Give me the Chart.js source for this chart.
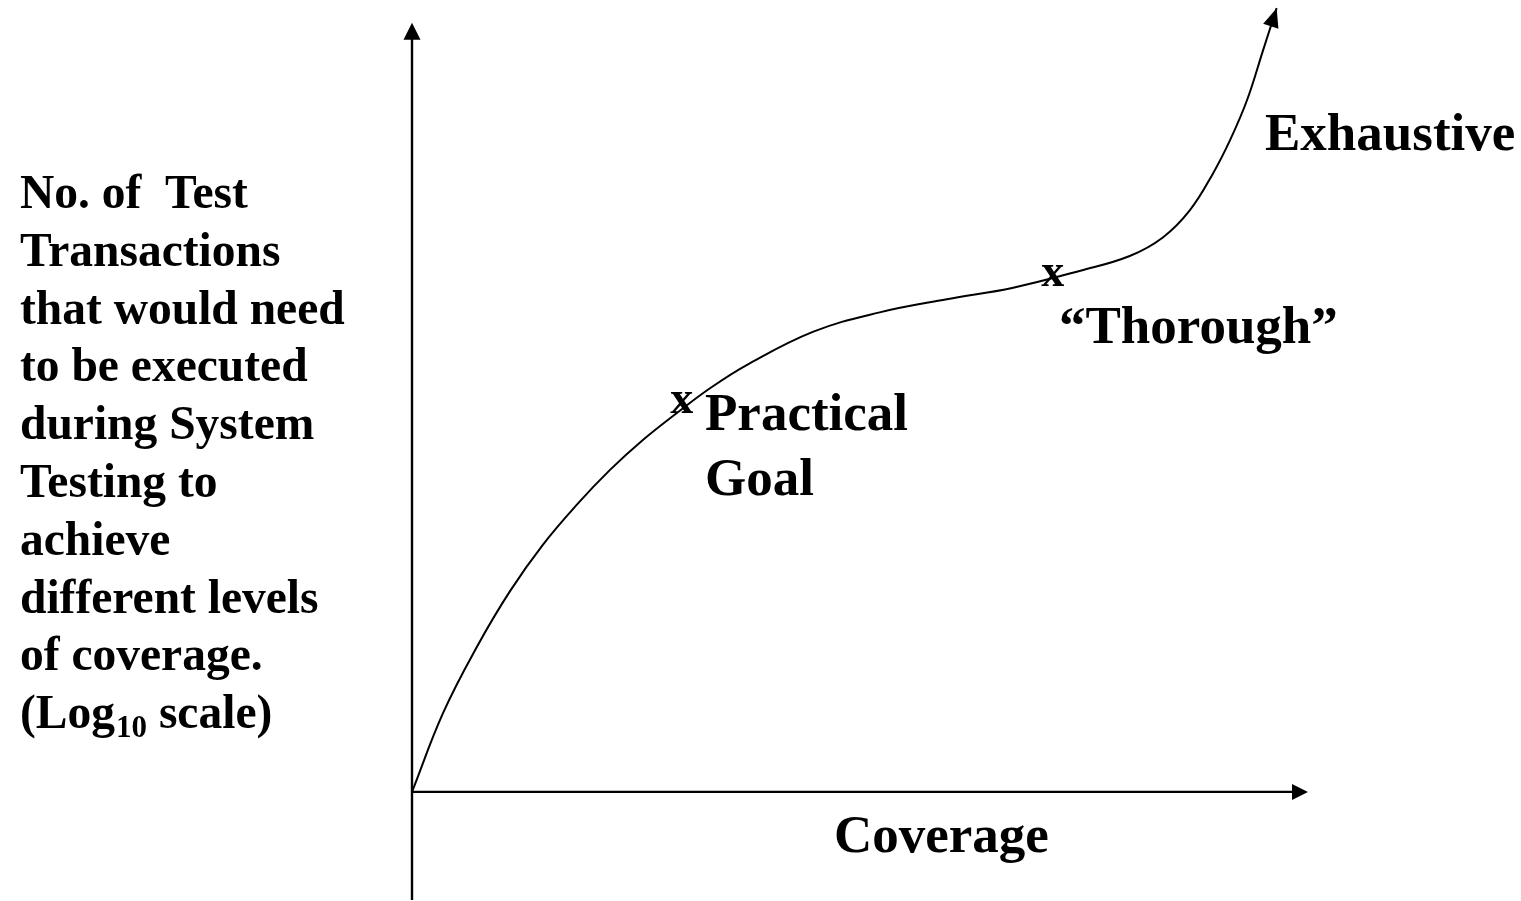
<!DOCTYPE html>
<html>
<head>
<meta charset="utf-8">
<script src="https://cdn.jsdelivr.net/npm/chart.js@4/dist/chart.umd.min.js"></script>
<style>
  html, body { margin: 0; padding: 0; background: #ffffff; }
  #wrap { width: 1521px; height: 901px; }
</style>
</head>
<body>
<div id="wrap"><canvas id="c" width="1521" height="901"></canvas></div>
<script>
// ---- data ----
const coverage = [0, 3.46, 7.25, 10.94, 14.6, 18.4, 22.1, 25.8, 29.6, 33.3, 37.4, 44.8, 52.2, 59.7, 67.1, 74.6, 80.1, 83.8, 86.8, 89.4, 91.3, 93.2, 95.0, 96.5];
const testCount = [0, 10.2, 18.8, 26.0, 32.0, 37.2, 41.7, 45.6, 49.1, 52.3, 55.3, 59.6, 62.1, 63.8, 65.3, 67.5, 69.4, 71.8, 75.3, 80.1, 84.4, 89.6, 96.1, 101.5];

const milestoneNames = ['Practical Goal', '“Thorough”'];
const milestoneX = [30.1, 71.5];
const milestoneY = [50.4, 66.8];

const yTitleLines = ['No. of  Test', 'Transactions', 'that would need', 'to be executed', 'during System', 'Testing to', 'achieve', 'different levels', 'of coverage.'];
const yTitleLast = ['(Log', '10', ' scale)'];
const xTitle = 'Coverage';
const practicalLines = ['Practical', 'Goal'];
const thoroughLabel = '“Thorough”';
const exhaustiveLabel = 'Exhaustive';

const xMin = 0, xMax = 100, yMin = -14, yMax = 101;
const yAxisTop = 99.6;

const points = coverage.map((v, i) => ({ x: v, y: testCount[i] }));

function arrowHead(ctx, fx, fy, tx, ty, len, half) {
  const a = Math.atan2(ty - fy, tx - fx);
  const bx = tx - len * Math.cos(a), by = ty - len * Math.sin(a);
  ctx.beginPath();
  ctx.moveTo(tx, ty);
  ctx.lineTo(bx + half * Math.sin(a), by - half * Math.cos(a));
  ctx.lineTo(bx - half * Math.sin(a), by + half * Math.cos(a));
  ctx.closePath();
  ctx.fill();
}

const SERIF = '"Liberation Serif", "Times New Roman", serif';

const decor = {
  id: 'decor',
  afterDatasetsDraw(chart) {
    const ctx = chart.ctx;
    const xs = chart.scales.x, ys = chart.scales.y;
    const X = v => xs.getPixelForValue(v), Y = v => ys.getPixelForValue(v);
    ctx.save();
    ctx.strokeStyle = '#000';
    ctx.fillStyle = '#000';
    ctx.lineWidth = 2.4;
    // y axis
    ctx.beginPath();
    ctx.moveTo(X(0), Y(yMin));
    ctx.lineTo(X(0), Y(yAxisTop) + 12);
    ctx.stroke();
    arrowHead(ctx, X(0), Y(0), X(0), Y(yAxisTop), 17, 8.5);
    // x axis
    ctx.beginPath();
    ctx.moveTo(X(0), Y(0));
    ctx.lineTo(X(xMax) - 12, Y(0));
    ctx.stroke();
    arrowHead(ctx, X(0), Y(0), X(xMax), Y(0), 16, 8);
    // curve arrow
    const n = coverage.length;
    arrowHead(ctx, X(coverage[n - 2]), Y(testCount[n - 2]), X(coverage[n - 1]), Y(testCount[n - 1]), 19, 8);

    // texts
    ctx.textBaseline = 'alphabetic';
    // milestone markers
    ctx.font = 'bold 46px ' + SERIF;
    ctx.textAlign = 'center';
    for (let i = 0; i < milestoneX.length; i++) {
      ctx.fillText('x', X(milestoneX[i]), Y(milestoneY[i]) + 10);
    }
    ctx.textAlign = 'left';
    // y title
    ctx.font = 'bold 47.5px ' + SERIF;
    const lh = 57.8;
    const by = 208;
    yTitleLines.forEach((t, i) => ctx.fillText(t, 20, by + i * lh));
    const lastY = by + yTitleLines.length * lh;
    let cx = 20;
    ctx.fillText(yTitleLast[0], cx, lastY);
    cx += ctx.measureText(yTitleLast[0]).width + 1;
    ctx.font = 'bold 31px ' + SERIF;
    ctx.fillText(yTitleLast[1], cx, lastY + 9);
    cx += ctx.measureText(yTitleLast[1]).width;
    ctx.font = 'bold 47.5px ' + SERIF;
    ctx.fillText(yTitleLast[2], cx, lastY);

    // annotations
    ctx.font = 'bold 53px ' + SERIF;
    ctx.fillText(practicalLines[0], 705, 430);
    ctx.fillText(practicalLines[1], 705, 495);
    ctx.fillText(thoroughLabel, 1059, 343);
    ctx.fillText(exhaustiveLabel, 1265, 150);
    ctx.fillText(xTitle, 834, 852);
    ctx.restore();
  }
};

new Chart(document.getElementById('c'), {
  type: 'line',
  data: {
    datasets: [{
      data: points,
      borderColor: '#000',
      borderWidth: 2,
      pointRadius: 0,
      fill: false,
      tension: 0.4,
      clip: false
    }]
  },
  options: {
    responsive: false,
    devicePixelRatio: 1,
    animation: false,
    layout: { padding: { left: 412, right: 213, top: 12, bottom: 1 } },
    plugins: { legend: { display: false }, tooltip: { enabled: false }, title: { display: false } },
    scales: {
      x: { type: 'linear', min: xMin, max: xMax, display: false },
      y: { type: 'linear', min: yMin, max: yMax, display: false }
    }
  },
  plugins: [decor]
});
</script>
</body>
</html>
